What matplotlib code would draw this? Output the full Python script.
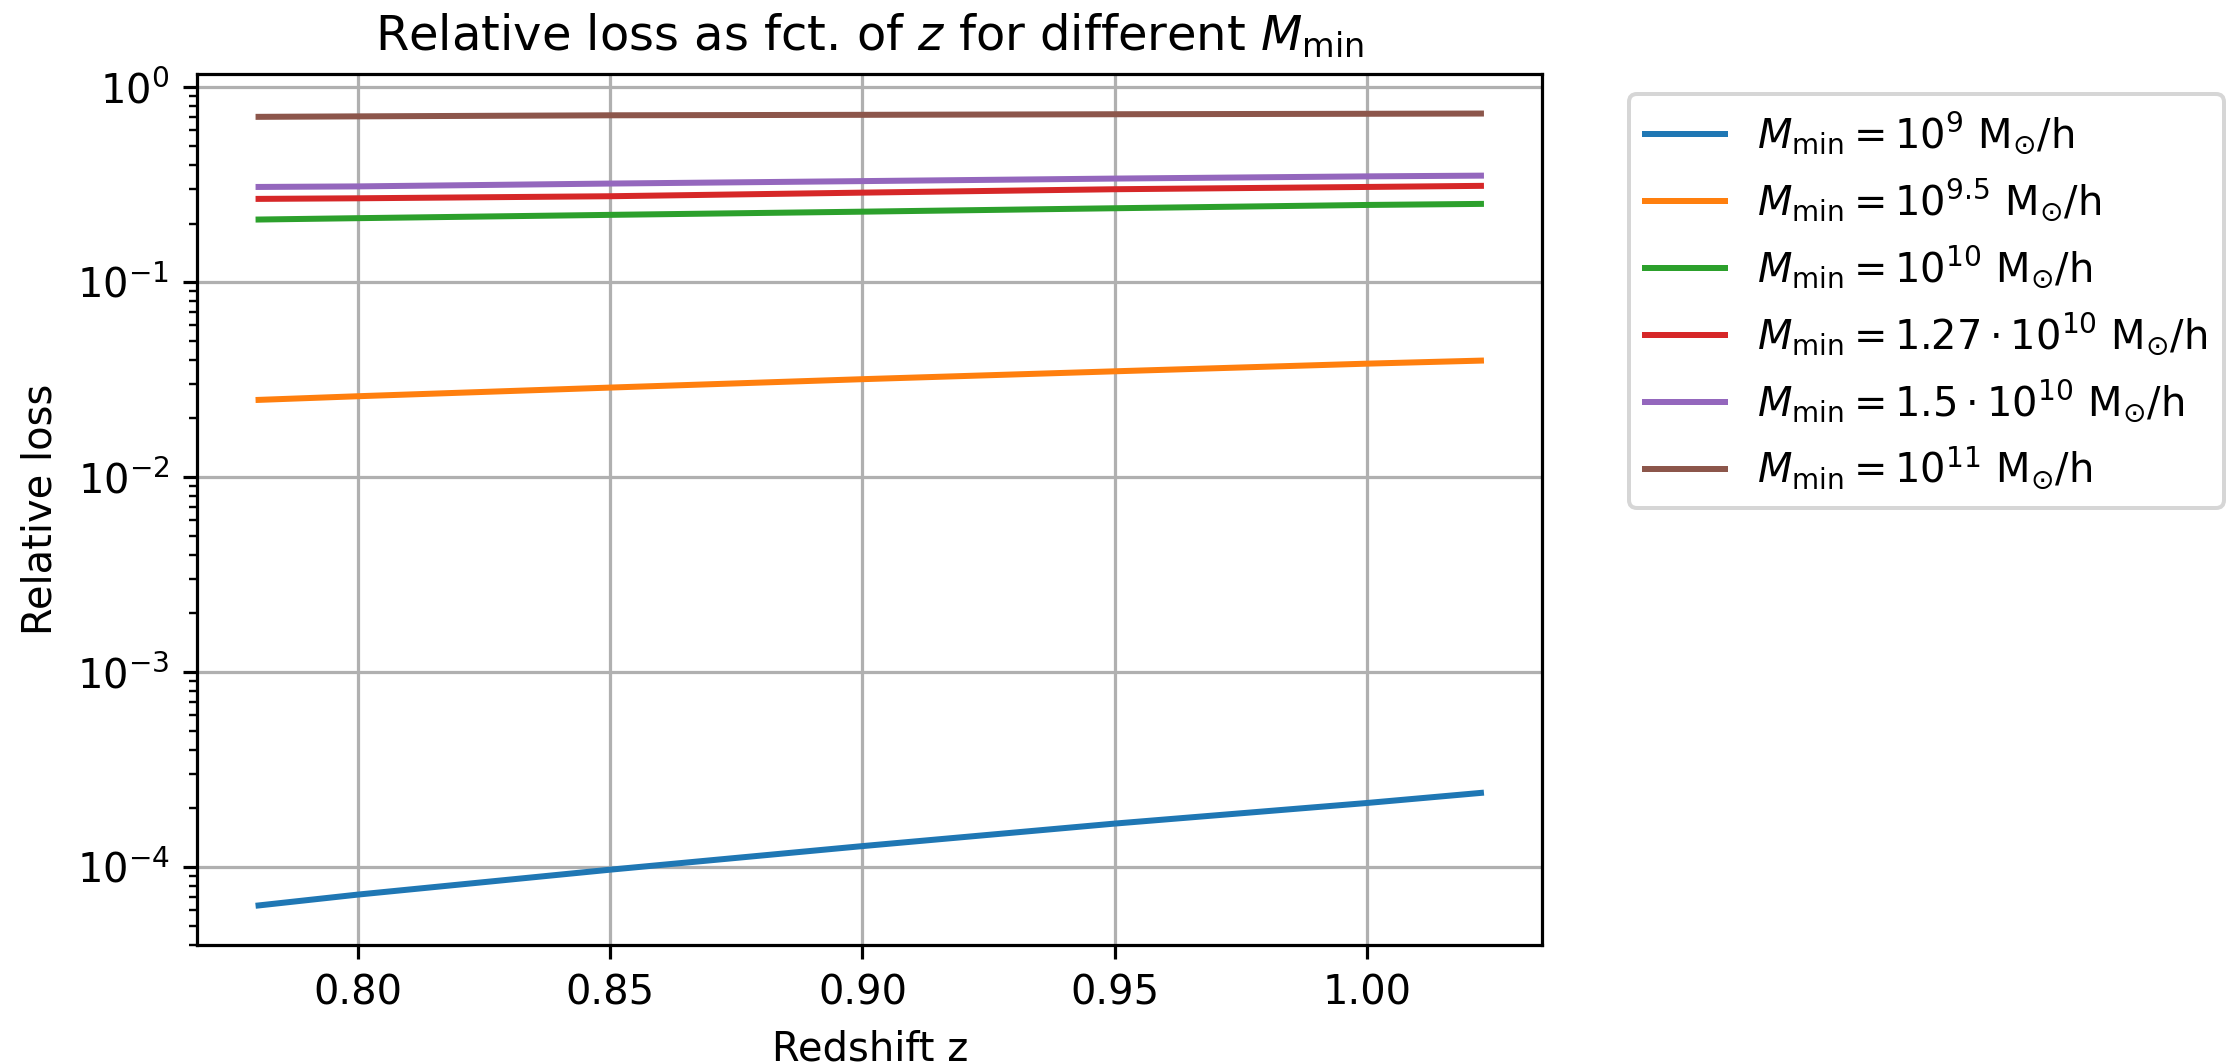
import numpy as np
import matplotlib
matplotlib.use("Agg")
import matplotlib.pyplot as plt

DPI = 288

# redshifts at which the loss was evaluated
z = [0.7803, 0.80, 0.85, 0.90, 0.95, 1.00, 1.0226]

# relative loss per minimum halo mass
loss_1e9 = [6.35e-5, 7.22e-5, 9.69e-5, 1.28e-4, 1.67e-4, 2.13e-4, 2.40e-4]
loss_1e95 = [0.0249, 0.0260, 0.0288, 0.0318, 0.0349, 0.0382, 0.0396]
loss_1e10 = [0.2096, 0.2130, 0.2215, 0.2300, 0.2395, 0.2490, 0.2521]
loss_127e10 = [0.2675, 0.2694, 0.2760, 0.2880, 0.2998, 0.3080, 0.3120]
loss_15e10 = [0.3080, 0.3100, 0.3206, 0.3300, 0.3400, 0.3490, 0.3520]
loss_1e11 = [0.7050, 0.7090, 0.7180, 0.7220, 0.7270, 0.7310, 0.7330]

labels = [
    r"$M_{\rm min} = 10^{9}$ M$_{\odot}$/h",
    r"$M_{\rm min} = 10^{9.5}$ M$_{\odot}$/h",
    r"$M_{\rm min} = 10^{10}$ M$_{\odot}$/h",
    r"$M_{\rm min} = 1.27 \cdot 10^{10}$ M$_{\odot}$/h",
    r"$M_{\rm min} = 1.5 \cdot 10^{10}$ M$_{\odot}$/h",
    r"$M_{\rm min} = 10^{11}$ M$_{\odot}$/h",
]
series = [loss_1e9, loss_1e95, loss_1e10, loss_127e10, loss_15e10, loss_1e11]

fig = plt.figure(figsize=(2231 / DPI, 1064 / DPI), dpi=DPI)
ax = fig.add_axes([0.0885, 0.1118, 0.6027, 0.8187])

for vals, lab in zip(series, labels):
    ax.plot(z, vals, label=lab)

ax.set_yscale("log")
ax.grid()
ax.set_title(r"Relative loss as fct. of $z$ for different $M_{\rm min}$")
ax.set_xlabel("Redshift z")
ax.set_ylabel("Relative loss")
ax.legend(bbox_to_anchor=(1.05, 1), loc="upper left")

fig.savefig("out.png", dpi=DPI)
